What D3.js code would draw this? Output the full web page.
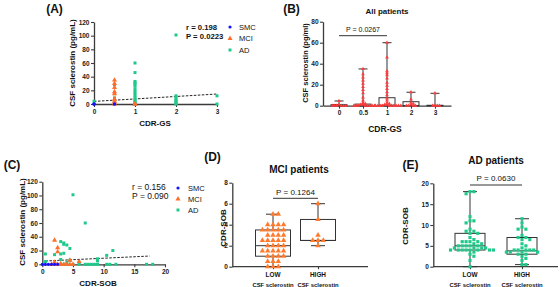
<!DOCTYPE html>
<html>
<head>
<meta charset="utf-8">
<script src="https://cdn.jsdelivr.net/npm/d3@7"></script>
<style>
  body { margin: 0; background: #fff; }
  svg { display: block; font-family: Arial, "Liberation Sans", sans-serif; }
</style>
</head>
<body>
<svg id="chart" width="560" height="287"></svg>
<script>
// ---------- data ----------
const groups = ["SMC", "MCI", "AD"];

// (A) CDR-GS vs CSF sclerostin, [cdr, value]
const gsSMC = [[0,0],[0,0],[0,0],[0.5,0],[0.5,0]];
const gsMCI = [[0.5,35],[0.5,30],[0.5,24],[0.5,18],[0.5,15],[0.5,7],[0.5,4],[0.5,3],[0.5,0],[1,0],[1,0]];
const gsAD  = [[0,4],[0.5,28],[0.5,15],[0.5,9],[0.5,6],[0.5,3],
  [1,60],[1,46],[1,33],[1,31],[1,29],[1,26],[1,22],[1,19],[1,16],[1,13],[1,10],[1,7],[1,5],[1,3],[1,1],[1,0],
  [2,101],[2,12],[2,10],[2,7],[2,5],[2,3],[2,1],[2,0],[3,12],[3,0]];
const gsFit = [[0,3.8],[3,14.6]];
const gsStats = ["r = 0.198", "P = 0.0223"];

// (B) all patients by CDR-GS
const gsCats = ["0", "0.5", "1", "2", "3"];
const allVals = [
  [4.5,1,0,0,0,0,0,0],
  [35,30,27,24,21,18,15,12,8,5,3,2,1,1,0,0,0,0,0,0,0,0],
  [60,46,33,31,29,26,22,19,16,13,10,7,5,3,2,1,1,0,0,0,0,0,0,0,0,0,0],
  [13,6,3,2,1,0,0,0,0],
  [12,0,0,0,0]
];
const allMin = [0, 0, 0, 0, 0];
const allQ1  = [0, 0, 0, 0, 0];
const allMed = [0, 0, 0.5, 0, 0];
const allQ3  = [1, 1.5, 7.6, 3.8, 0.4];
const allMax = [4.5, 35, 60, 12.8, 11.8];
const allP = "P = 0.0267";

// (C) CDR-SOB vs CSF sclerostin, [sob, value]
const sobSMC = [[0,0],[0.5,0],[1,0],[1.5,0],[2,0],[2.5,0]];
const sobMCI = [[2,35],[2.5,24],[2.5,18],[2,3],[3,1],[1.5,0],[2,0],[2.5,0],[3,0],[3.5,0],[4,0],[4.5,0],[4.5,6],[5,0],[6,4]];
const sobAD  = [[0.5,15],[0.5,4],[2,14],[3,33],[3,15],[3,7],[3.5,31],[3.5,29],[3.5,16],[4,28],[4.5,23],[4.5,6],
  [5,101],[7,60],[6,3],[9,8],[9,5],[10.5,13],[11.5,20],[4,3],[3.5,0],[4,0],[5,0],[6,0],[7,0],[7.5,0],[8,0],
  [8.5,0],[9,0],[10.5,0],[11,0],[12,0],[17,0],[18,0]];
const sobFit = [[0.5,4.8],[17.5,12]];
const sobStats = ["r = 0.156", "P = 0.090"];

// (D) MCI patients, CDR-SOB by sclerostin level
const levelCats = ["LOW", "HIGH"];
const mciLow  = [5,5,4,4,4,4,3.5,3.5,3.5,3.5,3.5,3,3,3,3,2.5,2.5,2.5,2.5,2.5,2,2,2,2,1.5,1.5,1.5,1.5,1.5,1,1,1,1,0.5,0.5,0.5,0,0,0];
const mciHigh = [6,4.5,3,2.5,2.5,2.5,2];
const mciBox  = [[0,1,2,3.5,5],[2,2.5,2.5,4.5,6]];   // min, q1, median, q3, max
const mciP = "P = 0.1264";

// (E) AD patients
const adLow  = [18,18,17.5,12,11,11,10.5,9,8.5,8.5,8,8,7,6.5,6,6,6,6,5.5,5.5,5,5,5,5,5,4.5,4.5,4.5,4.5,4,4,4,4,4,4,4,4,3.5,3,2.5,1.5,0];
const adHigh = [11.5,10.5,9.5,9,9,7.5,7,7,6.5,6.5,5.5,5,4.5,4,4,4,4,4,3.5,3.5,3.5,3.5,3,3,2.5,2,1.5,0.5,0.5];
const adBox  = [[0,4,5,8,18],[0.5,3,3.8,7,11.5]];
const adP = "P = 0.0630";

// ---------- drawing ----------
const svg = d3.select("#chart");
const AX = "#3b3b3b";
const FONT = "Arial, 'Liberation Sans', sans-serif";
const colors = { SMC: "#1414ff", MCI: "#ff6d2a", AD: "#1fc98a" };
const shapes = { SMC: d3.symbolCircle, MCI: d3.symbolTriangle, AD: d3.symbolSquare };
const sizes  = { SMC: 8, MCI: 11, AD: 9 };

function styleAxis(g) {
  g.attr("font-family", FONT).attr("font-size", 6.5).attr("font-weight", "bold");
  g.selectAll(".domain").attr("stroke", AX).attr("stroke-width", 1.3);
  g.selectAll(".tick line").attr("stroke", AX).attr("stroke-width", 1.1);
  g.selectAll(".tick text").attr("fill", "#222");
}

function text(x, y, t, size, bold, anchor) {
  return svg.append("text").attr("x", x).attr("y", y)
    .attr("text-anchor", anchor || "middle").attr("dy", "0.35em")
    .attr("font-size", size).attr("font-weight", bold ? "bold" : "normal")
    .attr("fill", "#111").text(t);
}

function vtext(x, y, t, size) {
  return svg.append("text").attr("transform", `translate(${x},${y}) rotate(-90)`)
    .attr("text-anchor", "middle").attr("dy", "0.35em")
    .attr("font-size", size).attr("font-weight", "bold").attr("fill", "#111").text(t);
}

function marks(data, xs, ys, grp) {
  svg.append("g").selectAll("path").data(data).join("path")
    .attr("transform", d => `translate(${xs(d[0])},${ys(d[1])})`)
    .attr("d", d3.symbol(shapes[grp], sizes[grp]))
    .attr("fill", colors[grp]);
}

function fitLine(data, xs, ys) {
  svg.append("path").datum(data)
    .attr("d", d3.line().x(d => xs(d[0])).y(d => ys(d[1])))
    .attr("fill", "none").attr("stroke", "#222").attr("stroke-width", 1)
    .attr("stroke-dasharray", "2.5,1.5");
}

function legend(x, y0, step, tx, size) {
  groups.forEach((g, i) => {
    svg.append("path").attr("transform", `translate(${x},${y0 + i * step})`)
      .attr("d", d3.symbol(shapes[g], sizes[g])).attr("fill", colors[g]);
    text(tx, y0 + i * step, g, size, false, "start");
  });
}

// simple beeswarm: offsets on a grid, nearest free slot to the centre
function swarm(vals, ys, d) {
  const placed = [];
  return vals.slice().sort((a, b) => b - a).map(v => {
    const py = ys(v);
    let dx = 0;
    for (let k = 0; k < 80; k++) {
      const c = (k % 2 ? 1 : -1) * Math.ceil(k / 2) * d;
      if (placed.every(p => Math.hypot(p.dx - c, p.py - py) >= d * 0.85)) { dx = c; break; }
    }
    placed.push({ dx, py });
    return { v, dx };
  });
}

function boxes(cx, ys, stats, w, cap) {
  const g = svg.append("g").attr("fill", "none").attr("stroke", "#333").attr("stroke-width", 1);
  stats.forEach((s, i) => {
    const x = cx(i);
    const [mn, q1, md, q3, mx] = s;
    g.append("line").attr("x1", x).attr("x2", x).attr("y1", ys(mx)).attr("y2", ys(q3));
    g.append("line").attr("x1", x).attr("x2", x).attr("y1", ys(q1)).attr("y2", ys(mn));
    g.append("line").attr("x1", x - cap / 2).attr("x2", x + cap / 2).attr("y1", ys(mx)).attr("y2", ys(mx));
    g.append("line").attr("x1", x - cap / 2).attr("x2", x + cap / 2).attr("y1", ys(mn)).attr("y2", ys(mn));
    g.append("rect").attr("x", x - w / 2).attr("width", w)
      .attr("y", ys(q3)).attr("height", Math.max(0.01, ys(q1) - ys(q3)));
    g.append("line").attr("x1", x - w / 2).attr("x2", x + w / 2).attr("y1", ys(md)).attr("y2", ys(md));
  });
}

function bracket(x1, x2, y, t, size) {
  svg.append("line").attr("x1", x1).attr("x2", x2).attr("y1", y).attr("y2", y)
    .attr("stroke", "#333").attr("stroke-width", 1);
  text((x1 + x2) / 2, y - 6.5, t, size, false);
}

// ----- (A)
const xA = d3.scaleLinear().domain([0, 3]).range([94, 217]);
const yA = d3.scaleLinear().domain([0, 120]).range([104, 22]);
svg.append("g").attr("transform", "translate(94,0)")
  .call(d3.axisLeft(yA).tickValues(d3.range(0, 121, 20)).tickSize(3).tickSizeOuter(0).tickPadding(1.5))
  .call(styleAxis);
svg.append("g").attr("transform", "translate(0,104)")
  .call(d3.axisBottom(xA).tickValues([0, 1, 2, 3]).tickFormat(d3.format("d")).tickSize(3).tickSizeOuter(0).tickPadding(2))
  .call(styleAxis);
fitLine(gsFit, xA, yA);
marks(gsAD, xA, yA, "AD");
marks(gsMCI, xA, yA, "MCI");
marks(gsSMC, xA, yA, "SMC");
text(186, 27.3, gsStats[0], 7.7, true, "start");
text(186, 36.3, gsStats[1], 7.7, true, "start");
legend(230, 27, 11.5, 239, 7.5);
text(54.5, 8.5, "(A)", 12, true);
vtext(72, 63, "CSF sclerostin (pg/mL)", 8);
text(155, 123, "CDR-GS", 8, true);

// ----- (B)
const xB = d3.scalePoint().domain(gsCats).range([323, 451]).padding(0.667);
const yB = d3.scaleLinear().domain([0, 80]).range([105.7, 21.7]);
svg.append("g").attr("transform", "translate(323,0)")
  .call(d3.axisLeft(yB).tickValues(d3.range(0, 81, 20)).tickSize(3).tickSizeOuter(0).tickPadding(1.5))
  .call(styleAxis);
svg.append("g").attr("transform", "translate(0,105.7)")
  .call(d3.axisBottom(xB).tickSize(3).tickSizeOuter(0).tickPadding(2))
  .call(styleAxis);
boxes(i => xB(gsCats[i]), yB, gsCats.map((c, i) => [allMin[i], allQ1[i], allMed[i], allQ3[i], allMax[i]]), 16, 9);
gsCats.forEach((c, i) => {
  svg.append("g").selectAll("path").data(swarm(allVals[i], yB, 2.3)).join("path")
    .attr("transform", d => `translate(${xB(c) + d.dx},${yB(d.v)})`)
    .attr("d", d3.symbol(d3.symbolTriangle, 6)).attr("fill", "#ff3b3b");
});
bracket(xB("0"), xB("1"), 35.7, allP, 7);
text(291.5, 8.7, "(B)", 12, true);
text(387, 11, "All patients", 8, true);
vtext(305, 63, "CSF sclerostin (pg/ml)", 7.5);
text(385, 129, "CDR-GS", 8.5, true);

// ----- (C)
const xC = d3.scaleLinear().domain([0, 20]).range([42.3, 165]);
const yC = d3.scaleLinear().domain([0, 120]).range([264.3, 181.7]);
svg.append("g").attr("transform", "translate(42.3,0)")
  .call(d3.axisLeft(yC).tickValues(d3.range(0, 121, 20)).tickSize(3).tickSizeOuter(0).tickPadding(1.5))
  .call(styleAxis);
svg.append("g").attr("transform", "translate(0,264.3)")
  .call(d3.axisBottom(xC).tickValues(d3.range(0, 21, 5)).tickSize(3).tickSizeOuter(0).tickPadding(2))
  .call(styleAxis);
fitLine(sobFit, xC, yC);
marks(sobAD, xC, yC, "AD");
marks(sobMCI, xC, yC, "MCI");
marks(sobSMC, xC, yC, "SMC");
text(132, 187.5, sobStats[0], 8.5, false, "start");
text(132, 196.5, sobStats[1], 8.5, false, "start");
legend(178, 188, 11, 188, 7.5);
text(12, 165, "(C)", 12, true);
vtext(22, 222, "CSF sclerostin (pg/mL)", 8);
text(98, 283, "CDR-SOB", 8, true);

// ----- level panels (D) and (E)
function levelPanel(opt) {
  const x = d3.scalePoint().domain(levelCats).range(opt.cx);
  const y = d3.scaleLinear().domain([0, opt.ymax]).range([266.7, opt.ytop]);
  svg.append("g").attr("transform", `translate(${opt.x0},0)`)
    .call(d3.axisLeft(y).tickValues(d3.range(0, opt.ymax + 0.01, opt.step)).tickSize(3).tickSizeOuter(0).tickPadding(1.5))
    .call(styleAxis);
  const gx = svg.append("g").attr("transform", "translate(0,266.7)")
    .call(d3.axisBottom(x).tickSize(2.5).tickSizeOuter(0).tickFormat(""))
    .call(styleAxis);
  gx.select(".domain").attr("d", `M${opt.x0},0H${opt.x1}`);
  levelCats.forEach(c => {
    text(x(c), 274.5, c, 6.4, true);
    text(x(c), 284.5, "CSF sclerostin", 5.9, true);
  });
  boxes(i => x(levelCats[i]), y, opt.box, opt.bw, opt.cap);
  [opt.low, opt.high].forEach((vals, i) => {
    const c = levelCats[i];
    svg.append("g").selectAll("path").data(swarm(vals, y, opt.d)).join("path")
      .attr("transform", d => `translate(${x(c) + d.dx},${y(d.v)})`)
      .attr("d", d3.symbol(opt.shape, opt.size)).attr("fill", opt.color);
  });
  bracket(x("LOW"), x("HIGH"), opt.py, opt.p, 8);
}

levelPanel({ x0: 232.3, x1: 368, cx: [273, 318], ymax: 8, ytop: 182.7, step: 2,
  box: mciBox, bw: 35, cap: 14, low: mciLow, high: mciHigh, d: 5.3,
  shape: d3.symbolTriangle, size: 13, color: "#ff7a2c", py: 198.3, p: mciP });
text(212.5, 156.7, "(D)", 12, true);
text(299, 169, "MCI patients", 10, true);
vtext(223, 228, "CDR-SOB", 8);

levelPanel({ x0: 433.3, x1: 558, cx: [470, 522], ymax: 20, ytop: 183.3, step: 5,
  box: adBox, bw: 30, cap: 14, low: adLow, high: adHigh, d: 3.9,
  shape: d3.symbolSquare, size: 10, color: "#1fc98a", py: 185, p: adP });
text(410.5, 165, "(E)", 12, true);
text(496, 160, "AD patients", 10, true);
vtext(405, 226, "CDR-SOB", 8);
</script>
</body>
</html>
